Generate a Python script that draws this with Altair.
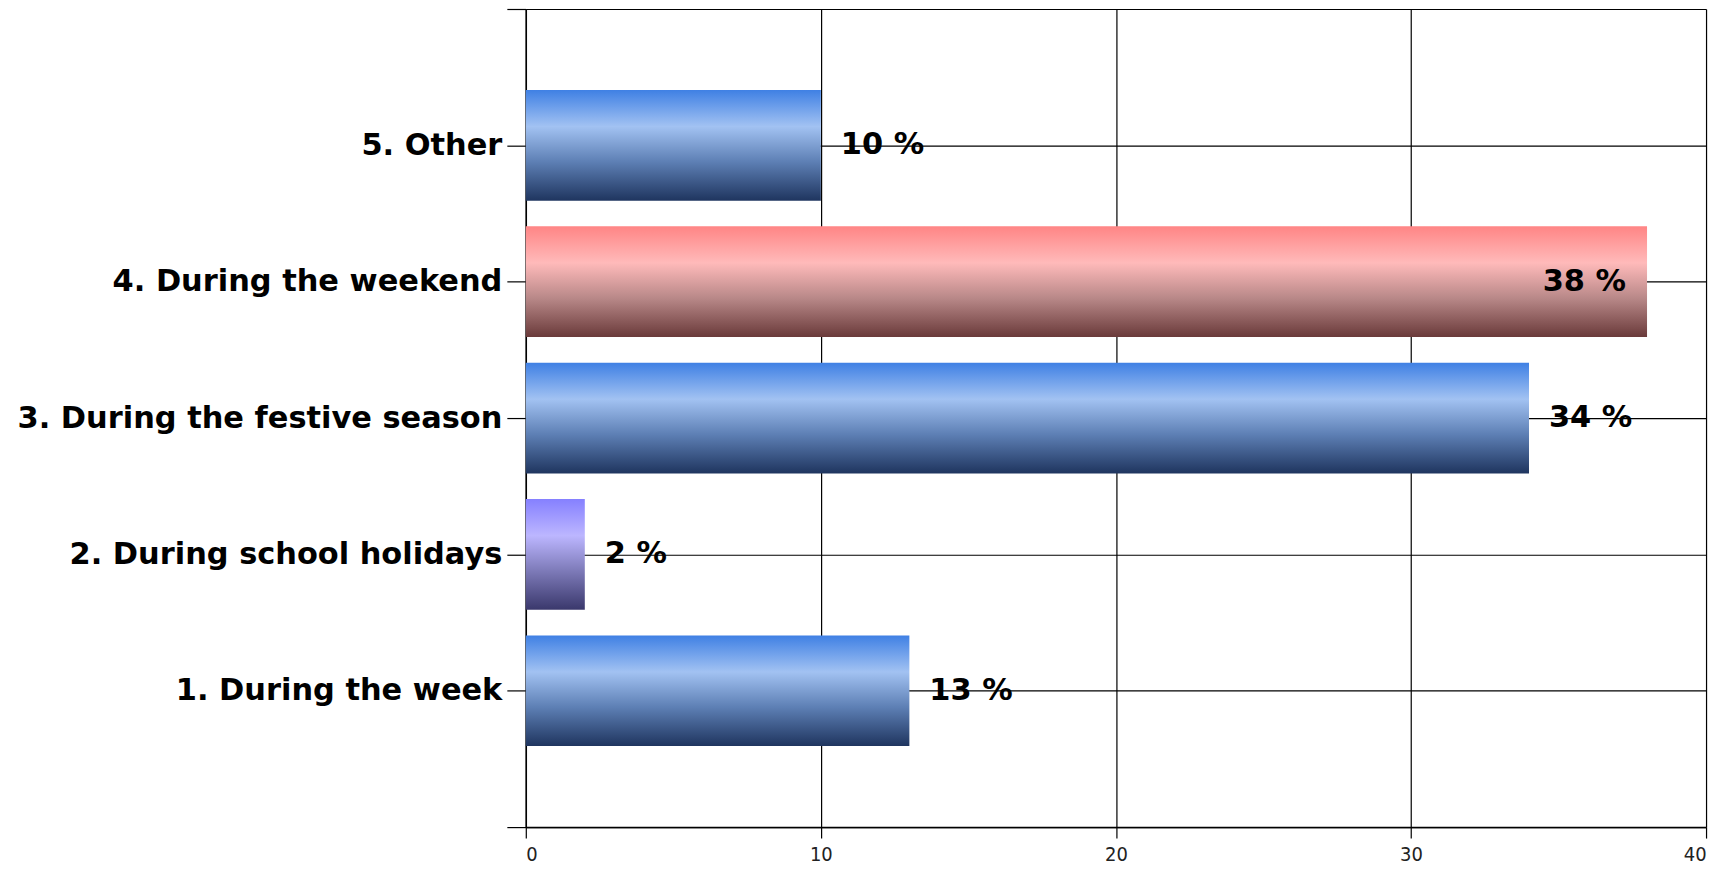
import altair as alt
import pandas as pd

categories = ["1. During the week", "2. During school holidays", "3. During the festive season",
              "4. During the weekend", "5. Other"]
values = [13, 2, 34, 38, 10]
groups = ["blue", "purple", "blue", "red", "blue"]
inside = [False, False, False, True, False]
x_ticks = [0, 10, 20, 30, 40]

df = pd.DataFrame({
    "category": categories,
    "pos": list(range(1, len(categories) + 1)),
    "value": values,
    "group": groups,
    "inside": inside,
    "label": [f"{v} %" for v in values],
})

names = [""] + categories + [""]
label_expr = "[" + ",".join("'" + n + "'" for n in names) + "][datum.value]"

gradients = {
    "blue": ["#3f80e4", "#a2c2f2", "#5d7fb4", "#1f355f"],
    "red": ["#ff8585", "#ffbaba", "#b88888", "#6a3a3a"],
    "purple": ["#8580ff", "#bcb6ff", "#7d7ab8", "#3a386c"],
}

BOLD_FONT = "DejaVu Sans"

x_enc = alt.X("value:Q", scale=alt.Scale(domain=[0, 40], nice=False, padding=0, zero=True),
              axis=alt.Axis(values=x_ticks, title=None, grid=True, gridColor="#000",
                            gridWidth=1.2, domainColor="#000", domainWidth=1.5,
                            tickColor="#000", tickSize=11, tickWidth=1.2,
                            labelFont="Liberation Sans Narrow, DejaVu Sans Condensed, Liberation Sans",
                            labelFontSize=20, labelColor="#222", labelPadding=6))
y_enc = alt.Y("pos:Q", scale=alt.Scale(domain=[0, 6], nice=False, padding=0, zero=True),
              axis=alt.Axis(values=list(range(0, 7)), labelExpr=label_expr, title=None,
                            grid=True, gridColor="#000", gridWidth=1.2,
                            domainColor="#000", domainWidth=1.5,
                            tickColor="#000", tickSize=19, tickWidth=1.2,
                            labelFont=BOLD_FONT, labelFontWeight="bold", labelLimit=1000,
                            labelFontSize=30.5, labelColor="#000", labelPadding=5))

base = alt.Chart(df)
layers = []
for g, cols in gradients.items():
    grad = alt.Gradient(
        gradient="linear", x1=0, x2=0, y1=0, y2=1,
        stops=[alt.GradientStop(offset=0, color=cols[0]),
               alt.GradientStop(offset=0.33, color=cols[1]),
               alt.GradientStop(offset=0.65, color=cols[2]),
               alt.GradientStop(offset=1, color=cols[3])])
    layers.append(
        base.transform_filter(alt.datum.group == g)
        .mark_bar(orient="horizontal", size=111, color=grad)
        .encode(x=x_enc, y=y_enc)
    )

text_out = base.transform_filter("!datum.inside").mark_text(
    align="left", baseline="middle", dx=20, font=BOLD_FONT, fontWeight="bold",
    fontSize=30.5, color="#000").encode(x="value:Q", y="pos:Q", text="label:N")
text_in = base.transform_filter("datum.inside").mark_text(
    align="right", baseline="middle", dx=-21, font=BOLD_FONT, fontWeight="bold",
    fontSize=30.5, color="#000").encode(x="value:Q", y="pos:Q", text="label:N")

chart = alt.layer(*layers, text_out, text_in).properties(
    width=1183, height=820,
    autosize=alt.AutoSizeParams(type="none"),
    padding={"left": 519, "top": 0, "right": 20, "bottom": 42},
).configure_view(strokeWidth=0).configure(background="#ffffff")

chart.save("out.html", embed_options={"renderer": "svg", "actions": False})
